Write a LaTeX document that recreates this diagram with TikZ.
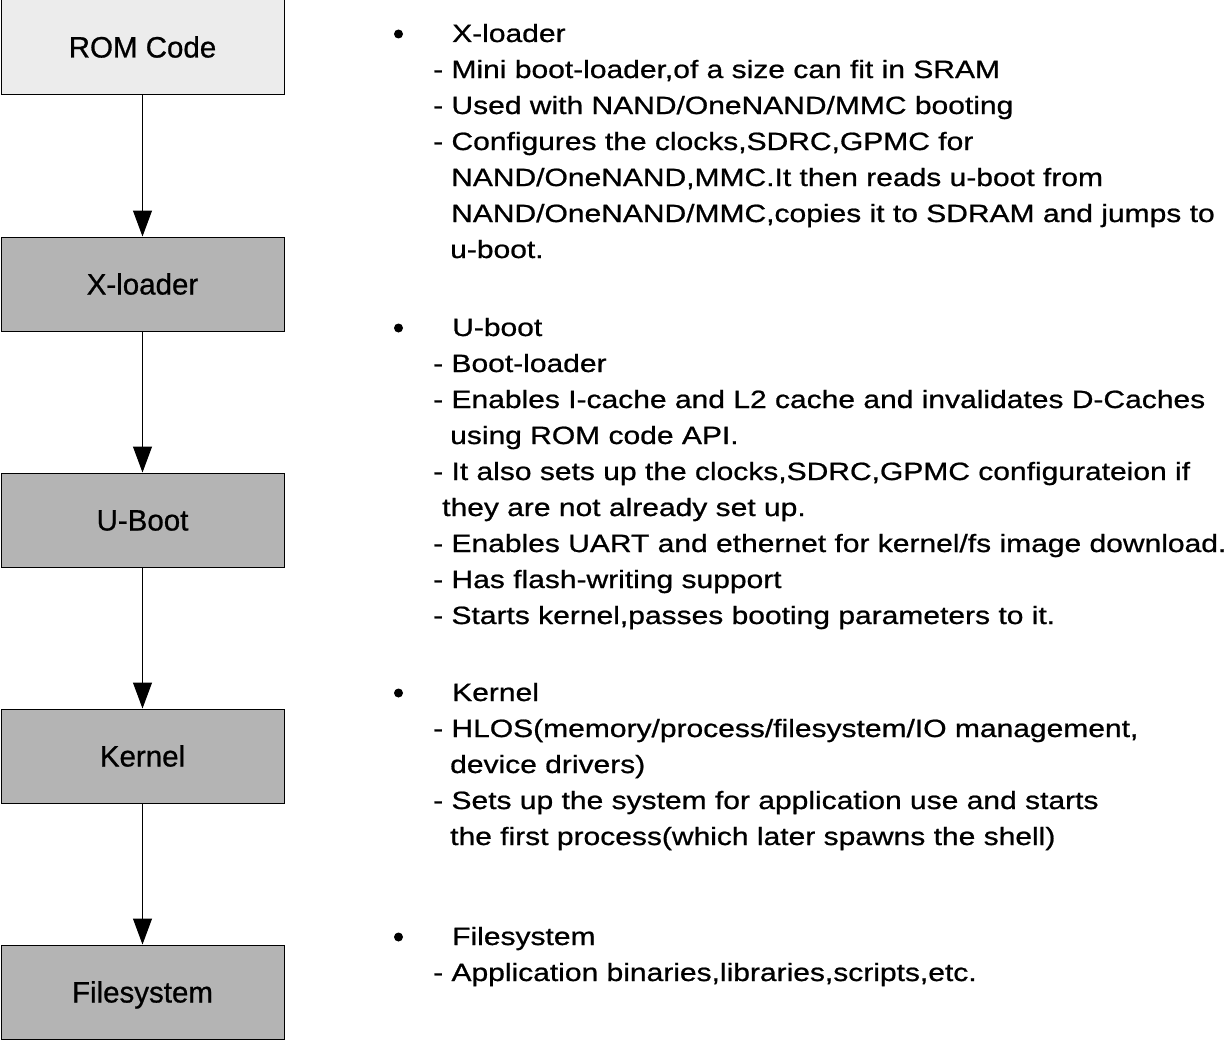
\documentclass[tikz,border=0pt]{standalone}
\usepackage{fontspec}
\setmainfont{Liberation Sans}[FakeBold=0.8]
\newfontfamily\boxfont{Liberation Sans}[FakeBold=0.8]
\newfontfamily\widefont{Liberation Sans}[FakeStretch=1.2,FakeBold=0.8]
\usetikzlibrary{arrows.meta}
\definecolor{romfill}{HTML}{ECECEC}
\definecolor{stagefill}{HTML}{B4B4B4}
\tikzset{
  stagebox/.style={draw=black, line width=1pt, fill=stagefill, minimum width=283pt, minimum height=94pt,
    inner sep=0pt, text height=21pt, text depth=0pt, font=\boxfont\fontsize{29.5}{34}\selectfont},
  rombox/.style={stagebox, fill=romfill},
  flowarrow/.style={draw=black, line width=1pt, -{Triangle[length=26pt,width=19pt]}},
  txt/.style={anchor=base west, inner sep=0pt, font=\widefont\fontsize{25}{36}\selectfont},
  bulletdot/.style={fill=black, circle, inner sep=0pt, minimum size=9pt}
}
\begin{document}
\begin{tikzpicture}[x=1pt,y=-1pt]
\useasboundingbox[fill=white] (0,0) rectangle (1226,1041);
% boxes
\node[rombox]   (rom)  at (142.5,47)  {ROM Code};
\node[stagebox] (xl)   at (142.5,284) {X-loader};
\node[stagebox] (ub)   at (142.5,520) {U-Boot};
\node[stagebox] (kn)   at (142.5,756) {Kernel};
\node[stagebox] (fs)   at (142.5,992) {Filesystem};
\draw[flowarrow] (rom.south) -- (xl.north);
\draw[flowarrow] (xl.south) -- (ub.north);
\draw[flowarrow] (ub.south) -- (kn.north);
\draw[flowarrow] (kn.south) -- (fs.north);
% section 1
\node[bulletdot] (b1) at (398.5,34) {};
\node[txt] (a1) at (452,42)  {X-loader};
\node[txt] (a2) at (433,78)  {- Mini boot-loader,of a size can fit in SRAM};
\node[txt] (a3) at (433,114) {- Used with NAND/OneNAND/MMC booting};
\node[txt] (a4) at (433,150) {- Configures the clocks,SDRC,GPMC for};
\node[txt] (a5) at (451,186) {NAND/OneNAND,MMC.It then reads u-boot from};
\node[txt] (a6) at (451,222) {NAND/OneNAND/MMC,copies it to SDRAM and jumps to};
\node[txt] (a7) at (450,258) {u-boot.};
% section 2
\node[bulletdot] (b2) at (398.5,328) {};
\node[txt] (c1) at (452,336) {U-boot};
\node[txt] (c2) at (433,372) {- Boot-loader};
\node[txt] (c3) at (433,408) {- Enables I-cache and L2 cache and invalidates D-Caches};
\node[txt] (c4) at (450,444) {using ROM code API.};
\node[txt] (c5) at (433,480) {- It also sets up the clocks,SDRC,GPMC configurateion if};
\node[txt] (c6) at (442,516) {they are not already set up.};
\node[txt] (c7) at (433,552) {- Enables UART and ethernet for kernel/fs image download.};
\node[txt] (c8) at (433,588) {- Has flash-writing support};
\node[txt] (c9) at (433,624) {- Starts kernel,passes booting parameters to it.};
% section 3
\node[bulletdot] (b3) at (398.5,693) {};
\node[txt] (d1) at (452,701) {Kernel};
\node[txt] (d2) at (433,737) {- HLOS(memory/process/filesystem/IO management,};
\node[txt] (d3) at (450,773) {device drivers)};
\node[txt] (d4) at (433,809) {- Sets up the system for application use and starts};
\node[txt] (d5) at (450,845) {the first process(which later spawns the shell)};
% section 4
\node[bulletdot] (b4) at (398.5,937) {};
\node[txt] (e1) at (452,945) {Filesystem};
\node[txt] (e2) at (433,981) {- Application binaries,libraries,scripts,etc.};
\end{tikzpicture}
\end{document}
